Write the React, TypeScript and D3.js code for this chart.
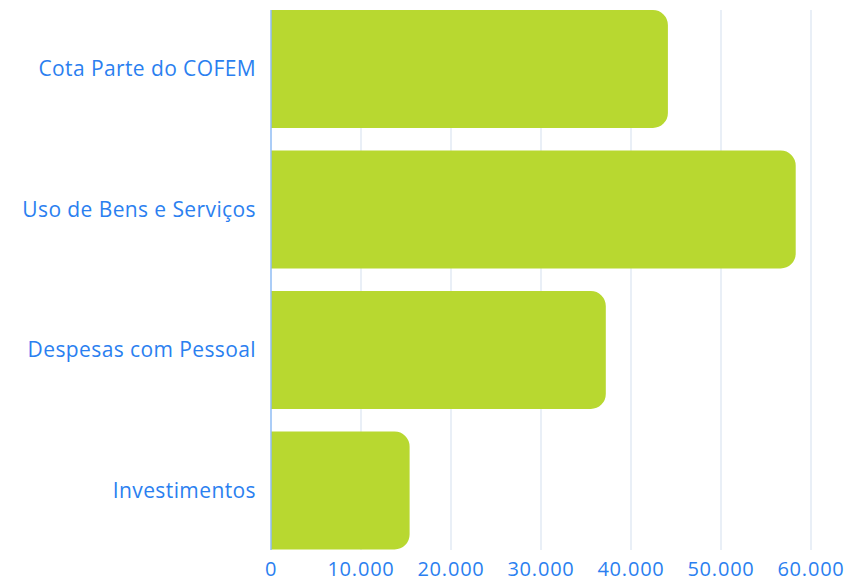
import React from "react";
import * as d3 from "d3";

const categories = ["Cota Parte do COFEM", "Uso de Bens e Serviços", "Despesas com Pessoal", "Investimentos"];
const values = [44100, 58300, 37200, 15400];
const tickValues = [0, 10000, 20000, 30000, 40000, 50000, 60000];
const tickLabels = ["0", "10.000", "20.000", "30.000", "40.000", "50.000", "60.000"];

const W = 857;
const H = 582;
const BAR = "#b8d830";
const TEXT = "#2b7ff0";
const FONT = "'Open Sans', sans-serif";

function roundedRightBar(x0: number, x1: number, y0: number, h: number, r: number) {
  const rr = Math.min(r, (x1 - x0) / 2, h / 2);
  const p = d3.path();
  p.moveTo(x0, y0);
  p.lineTo(x1 - rr, y0);
  p.arcTo(x1, y0, x1, y0 + rr, rr);
  p.lineTo(x1, y0 + h - rr);
  p.arcTo(x1, y0 + h, x1 - rr, y0 + h, rr);
  p.lineTo(x0, y0 + h);
  p.closePath();
  return p.toString();
}

export default function App() {
  const x = d3.scaleLinear().domain([0, 60000]).range([271, 811]);
  const y = d3.scaleBand<string>().domain(categories).range([-1.25, 560.75]).paddingInner(0.16).paddingOuter(0.08);
  const plotTop = 10;
  const plotBottom = 550;

  return (
    <svg width={W} height={H} style={{ position: "absolute", left: 0, top: 0, background: "#fff" }}>
      {tickValues.slice(1).map((t) => (
        <line key={t} x1={x(t)} x2={x(t)} y1={plotTop} y2={plotBottom} stroke="#d3dfee" strokeWidth={1} />
      ))}
      {categories.map((c, i) => (
        <path key={c} d={roundedRightBar(x(0), x(values[i]), y(c)!, y.bandwidth(), 15)} fill={BAR} />
      ))}
      <line x1={x(0)} x2={x(0)} y1={plotTop} y2={plotBottom} stroke="#8fbcf5" strokeWidth={1.5} />
      {categories.map((c) => (
        <text key={c} x={256} y={y(c)! + y.bandwidth() / 2 - 1} textAnchor="end" dominantBaseline="central"
          fill={TEXT} fontFamily={FONT} fontSize={21} letterSpacing={0.4}>{c}</text>
      ))}
      {tickValues.map((t, i) => (
        <text key={t} x={x(t)} y={568} textAnchor="middle" dominantBaseline="central"
          fill={TEXT} fontFamily={FONT} fontSize={20} letterSpacing={0.8}>{tickLabels[i]}</text>
      ))}
    </svg>
  );
}
